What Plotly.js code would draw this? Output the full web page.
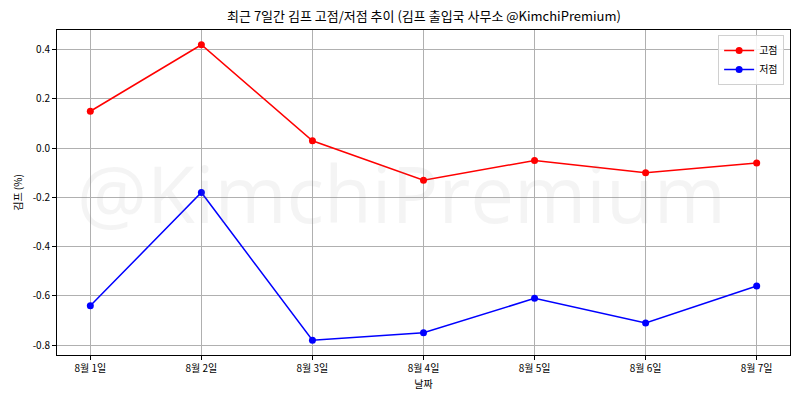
<!DOCTYPE html>
<html>
<head>
<meta charset="utf-8">
<script src="https://cdn.plot.ly/plotly-3.0.1.min.js"></script>
<style>html,body{margin:0;padding:0;background:#fff;}#chart{width:800px;height:400px;}</style>
</head>
<body>
<div id="chart"></div>
<script>
const dates = ["8월 1일", "8월 2일", "8월 3일", "8월 4일", "8월 5일", "8월 6일", "8월 7일"];
const highValues = [0.15, 0.42, 0.03, -0.13, -0.05, -0.10, -0.06];
const lowValues = [-0.64, -0.18, -0.78, -0.75, -0.61, -0.71, -0.56];
const yTickVals = [0.4, 0.2, 0.0, -0.2, -0.4, -0.6, -0.8];
const yTickText = ["0.4", "0.2", "0.0", "-0.2", "-0.4", "-0.6", "-0.8"];
const seriesNames = ["고점", "저점"];

const font = "'Noto Sans CJK KR', 'Noto Sans', sans-serif";

const traces = [
  {
    x: dates, y: highValues, name: seriesNames[0], type: "scatter", mode: "lines+markers",
    line: {color: "red", width: 1.5}, marker: {color: "red", size: 7}
  },
  {
    x: dates, y: lowValues, name: seriesNames[1], type: "scatter", mode: "lines+markers",
    line: {color: "blue", width: 1.5}, marker: {color: "blue", size: 7}
  }
];

const layout = {
  width: 800, height: 400,
  margin: {l: 57, r: 10, t: 30, b: 45},
  paper_bgcolor: "#fff", plot_bgcolor: "#fff",
  font: {family: font, size: 10, color: "#000"},
  title: {text: "최근 7일간 김프 고점/저점 추이 (김프 출입국 사무소 @KimchiPremium)", font: {family: font, size: 13, color: "#000"}, x: 0.53, xanchor: "center", y: 0.958, yanchor: "middle"},
  xaxis: {
    type: "category", range: [-0.3, 6.3],
    showline: true, mirror: true, linecolor: "#000", linewidth: 1,
    ticks: "outside", ticklen: 4, tickcolor: "#000",
    showgrid: true, gridcolor: "#b0b0b0", gridwidth: 1,
    title: {text: "날짜", font: {family: font, size: 10}, standoff: 6},
    tickfont: {family: font, size: 10}
  },
  yaxis: {
    range: [-0.84, 0.48],
    tickvals: yTickVals, ticktext: yTickText,
    showline: true, mirror: true, linecolor: "#000", linewidth: 1,
    ticks: "outside", ticklen: 4, tickcolor: "#000",
    showgrid: true, gridcolor: "#b0b0b0", gridwidth: 1, zeroline: false,
    title: {text: "김프 (%)", font: {family: font, size: 10}, standoff: 8},
    tickfont: {family: font, size: 10}
  },
  legend: {
    x: 0.992, y: 0.985, xanchor: "right", yanchor: "top",
    bgcolor: "rgba(255,255,255,0.85)", bordercolor: "#d0d0d0", borderwidth: 1,
    font: {family: font, size: 10}, tracegroupgap: 0
  },
  annotations: [{
    text: "@KimchiPremium", xref: "paper", yref: "paper", x: 0.47, y: 0.5,
    xanchor: "center", yanchor: "middle", showarrow: false,
    font: {family: "'Open Sans', sans-serif", size: 78, color: "rgba(128,128,128,0.09)"}
  }]
};

Plotly.newPlot("chart", traces, layout, {displayModeBar: false, staticPlot: true});
</script>
</body>
</html>
